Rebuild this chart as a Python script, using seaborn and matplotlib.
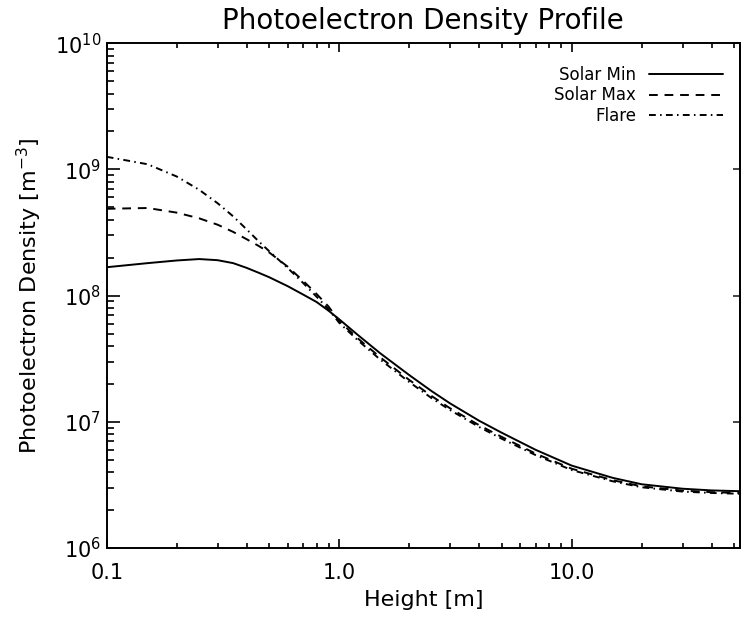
import numpy as np
import pandas as pd
import seaborn as sns
import matplotlib
matplotlib.use("Agg")
import matplotlib.pyplot as plt
from matplotlib.ticker import FixedLocator, FixedFormatter, LogLocator, NullFormatter, NullLocator

# Height grid [m] and photoelectron densities [m^-3] for each scenario
height = [0.1, 0.15, 0.2, 0.25, 0.3, 0.35, 0.4, 0.45, 0.5, 0.6, 0.7, 0.8, 0.9, 1.0,
          1.2, 1.5, 2.0, 2.5, 3.0, 4.0, 5.0, 7.0, 10.0, 15.0, 20.0, 30.0, 40.0, 53.0]
solar_min = [1.68e8, 1.81e8, 1.90e8, 1.95e8, 1.91e8, 1.81e8, 1.66e8, 1.52e8, 1.40e8,
             1.19e8, 1.02e8, 8.9e7, 7.6e7, 6.5e7, 4.9e7, 3.5e7, 2.35e7, 1.75e7, 1.40e7,
             1.02e7, 8.2e6, 6.0e6, 4.5e6, 3.6e6, 3.2e6, 2.95e6, 2.86e6, 2.82e6]
solar_max = [4.88e8, 4.95e8, 4.55e8, 4.10e8, 3.65e8, 3.20e8, 2.80e8, 2.48e8, 2.20e8,
             1.70e8, 1.31e8, 1.03e8, 8.2e7, 6.3e7, 4.6e7, 3.25e7, 2.15e7, 1.60e7, 1.28e7,
             9.4e6, 7.6e6, 5.6e6, 4.25e6, 3.45e6, 3.08e6, 2.85e6, 2.77e6, 2.73e6]
flare = [1.26e9, 1.10e9, 8.8e8, 6.9e8, 5.4e8, 4.25e8, 3.35e8, 2.70e8, 2.25e8,
         1.66e8, 1.26e8, 9.8e7, 7.8e7, 6.1e7, 4.45e7, 3.12e7, 2.07e7, 1.54e7, 1.24e7,
         9.1e6, 7.35e6, 5.45e6, 4.15e6, 3.38e6, 3.03e6, 2.80e6, 2.73e6, 2.69e6]
series_names = ["Solar Min", "Solar Max", "Flare"]
x_ticks = [0.1, 1.0, 10.0]
x_tick_labels = ["0.1", "1.0", "10.0"]

df = pd.concat([
    pd.DataFrame({"Height": height, "Density": vals, "Case": name})
    for name, vals in zip(series_names, [solar_min, solar_max, flare])
], ignore_index=True)

sns.set_style("ticks")
plt.rcParams["font.family"] = ["DejaVu Sans"]
plt.rcParams["text.color"] = "black"
plt.rcParams["axes.labelcolor"] = "black"

fig = plt.figure(figsize=(7.45, 6.2), dpi=100)
ax = fig.add_axes([106.7 / 745, 1 - 548 / 620, (740 - 106.7) / 745, (548 - 43.3) / 620])

dash_styles = {"Solar Min": "", "Solar Max": (4.5, 3.5), "Flare": (3.5, 2.2, 0.8, 2.2)}
sns.lineplot(data=df, x="Height", y="Density", style="Case", dashes=dash_styles,
             color="black", linewidth=1.4, ax=ax, estimator=None, sort=False)

ax.set_xscale("log")
ax.set_yscale("log")
ax.set_xlim(0.1, 53)
ax.set_ylim(1e6, 1e10)

ax.xaxis.set_major_locator(FixedLocator(x_ticks))
ax.xaxis.set_major_formatter(FixedFormatter(x_tick_labels))
ax.xaxis.set_minor_locator(LogLocator(base=10, subs=np.arange(2, 10)))
ax.xaxis.set_minor_formatter(NullFormatter())
ax.yaxis.set_major_locator(LogLocator(base=10, numticks=10))
ax.yaxis.set_minor_locator(LogLocator(base=10, subs=np.arange(2, 10), numticks=20))
ax.yaxis.set_minor_formatter(NullFormatter())

for side in ["left", "right", "top", "bottom"]:
    ax.spines[side].set_linewidth(1.4)
    ax.spines[side].set_color("black")

ax.tick_params(axis="x", which="both", direction="in", top=True, bottom=True,
               labelsize=15, pad=11, width=1.2, colors="black")
ax.tick_params(axis="x", which="major", length=6.5)
ax.tick_params(axis="x", which="minor", length=3.5)
ax.tick_params(axis="y", which="both", direction="in", left=True, right=False,
               labelsize=15, pad=4, width=1.2, colors="black")
ax.tick_params(axis="y", which="major", length=9)
ax.tick_params(axis="y", which="minor", length=5)

# right-hand axis carries only the decade ticks
sec = ax.secondary_yaxis("right")
sec.yaxis.set_major_locator(LogLocator(base=10, numticks=10))
sec.yaxis.set_minor_locator(NullLocator())
sec.tick_params(axis="y", which="major", direction="in", length=5, width=1.2, labelright=False)
sec.spines["right"].set_linewidth(1.4)

ax.set_xlabel("Height [m]", fontsize=16, labelpad=5)
ax.set_ylabel("Photoelectron Density [m$^{-3}$]", fontsize=16, labelpad=8)
ax.set_title("Photoelectron Density Profile", fontsize=20, pad=10)

handles, labels = ax.get_legend_handles_labels()
leg = ax.legend(handles, labels, markerfirst=False, frameon=False, fontsize=12,
                loc="upper right", bbox_to_anchor=(722.7 / 745, 1 - 66 / 620),
                bbox_transform=fig.transFigure, borderpad=0, borderaxespad=0,
                handlelength=4.4, handletextpad=0.8, labelspacing=0.15)
for line in leg.get_lines():
    line.set_linewidth(1.4)

fig.savefig("out.png", dpi=100)
